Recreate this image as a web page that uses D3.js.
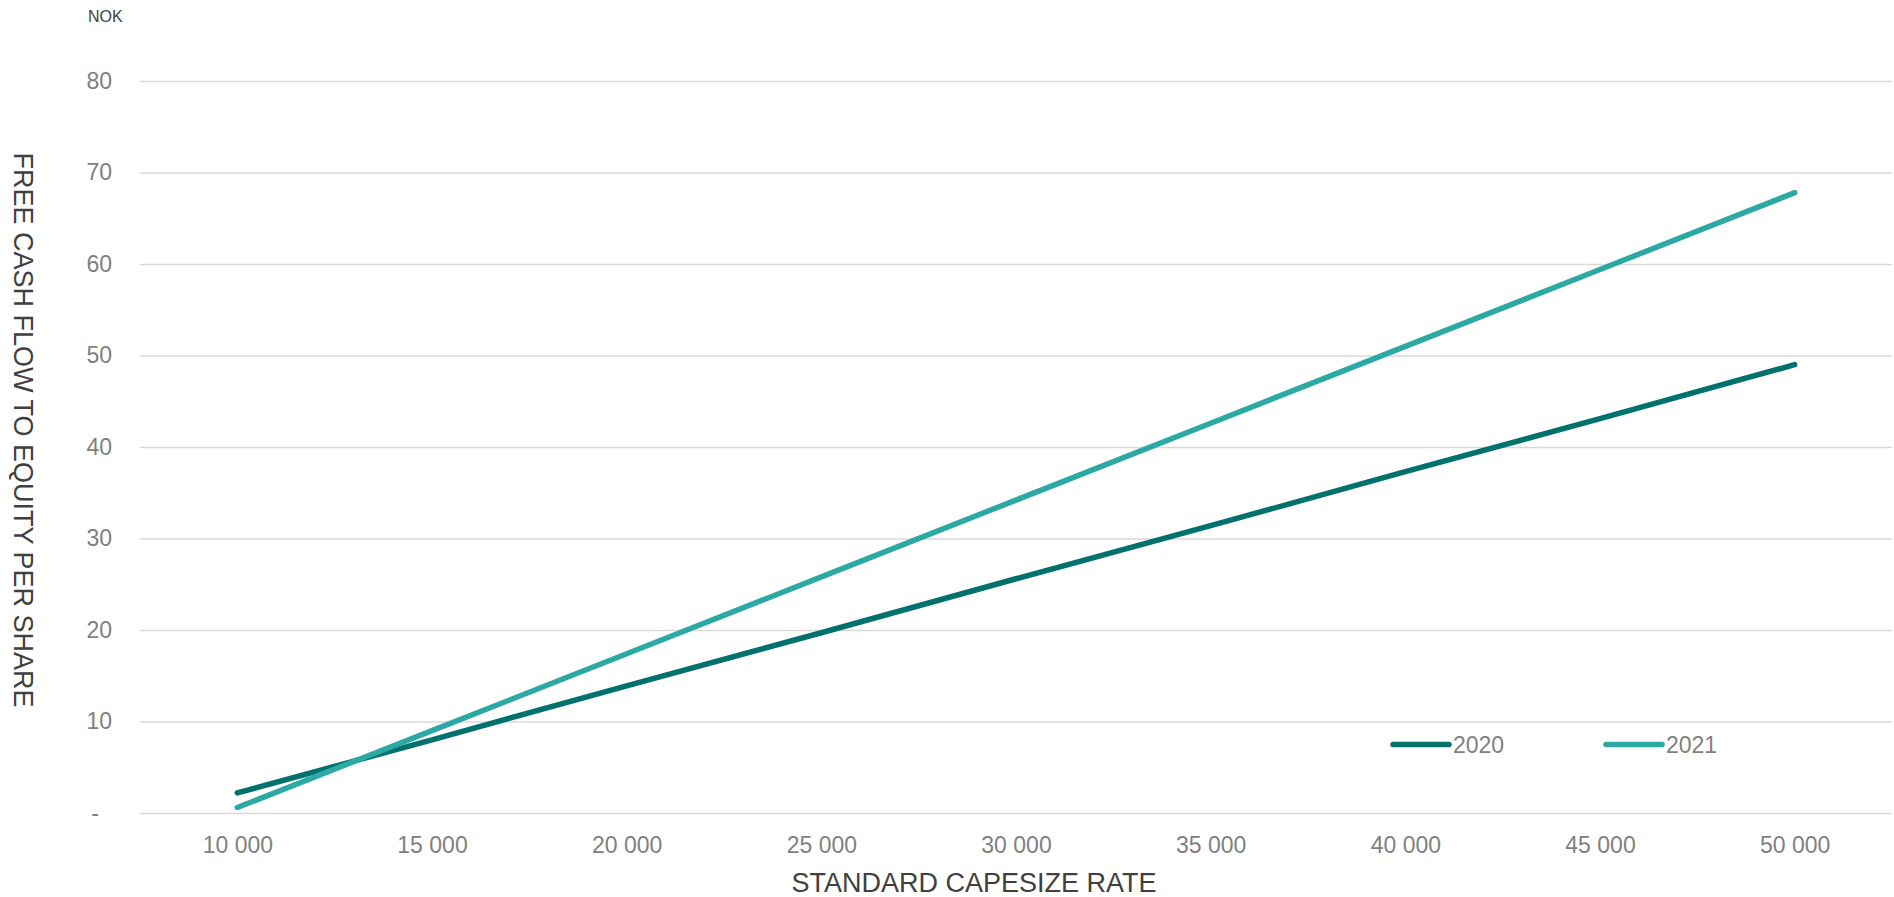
<!DOCTYPE html>
<html>
<head>
<meta charset="utf-8">
<script src="https://cdn.jsdelivr.net/npm/d3@7"></script>
<style>
  html, body { margin: 0; padding: 0; background: #ffffff; }
  svg { display: block; font-family: "Liberation Sans", Arial, sans-serif; }
</style>
</head>
<body>
<svg id="chart" width="1894" height="897"></svg>
<script>
// Capesize rate scenarios (USD/day) and the resulting free cash flow to equity per share (NOK)
const categories = ["10 000", "15 000", "20 000", "25 000", "30 000", "35 000", "40 000", "45 000", "50 000"];
const fcf2020 = [2.2, 8.0, 13.9, 19.7, 25.6, 31.4, 37.3, 43.1, 49.0];
const fcf2021 = [0.6, 9.0, 17.4, 25.8, 34.2, 42.6, 51.0, 59.4, 67.8];
const yTicks = [0, 10, 20, 30, 40, 50, 60, 70, 80];
const seriesNames = ["2020", "2021"];
const seriesColors = ["#00716c", "#2ca9a5"];

const svg = d3.select("#chart");
const plot = { left: 140, right: 1892, top: 81, bottom: 813 };

const x = d3.scalePoint()
  .domain(categories)
  .range([plot.left, plot.right])
  .padding(0.5);

const y = d3.scaleLinear()
  .domain([0, 80])
  .range([plot.bottom, plot.top]);

// Horizontal gridlines with value labels
const yAxis = d3.axisLeft(y)
  .tickValues(yTicks)
  .tickSize(-(plot.right - plot.left))
  .tickPadding(28)
  .tickFormat(d => d === 0 ? "-" : d3.format("d")(d));

const gy = svg.append("g")
  .attr("transform", `translate(${plot.left},0)`)
  .call(yAxis);
gy.select(".domain").remove();
gy.selectAll(".tick line")
  .attr("stroke", "#d9d9d9")
  .attr("stroke-width", 1.6);
gy.selectAll(".tick text")
  .attr("fill", "#7f7f7f")
  .attr("font-size", 23)
  .attr("dx", d => d === 0 ? -13 : 0);

// Category labels under the baseline
const xAxis = d3.axisBottom(x).tickSize(0).tickPadding(24);
const gx = svg.append("g")
  .attr("transform", `translate(0,${plot.bottom})`)
  .call(xAxis);
gx.select(".domain").remove();
gx.selectAll(".tick text")
  .attr("fill", "#7f7f7f")
  .attr("font-size", 23);

// Series lines
const series = [fcf2020, fcf2021];
const line = d3.line()
  .x((d, i) => x(categories[i]))
  .y(d => y(d));

svg.append("g")
  .selectAll("path")
  .data(series)
  .join("path")
  .attr("d", d => line(d))
  .attr("fill", "none")
  .attr("stroke", (d, i) => seriesColors[i])
  .attr("stroke-width", 5.5)
  .attr("stroke-linecap", "round")
  .attr("stroke-linejoin", "round");

// Legend
const legendX = [1393, 1606];
const legendY = 744.5;
const legend = svg.append("g")
  .selectAll("g")
  .data(seriesNames)
  .join("g")
  .attr("transform", (d, i) => `translate(${legendX[i]},${legendY})`);
legend.append("line")
  .attr("x1", 0).attr("x2", 56)
  .attr("y1", 0).attr("y2", 0)
  .attr("stroke", (d, i) => seriesColors[i])
  .attr("stroke-width", 5.5)
  .attr("stroke-linecap", "round");
legend.append("text")
  .attr("x", 60)
  .attr("y", 0)
  .attr("dy", "0.35em")
  .attr("fill", "#7f7f7f")
  .attr("font-size", 23)
  .text(d => d);

// Unit label
svg.append("text")
  .attr("x", 88)
  .attr("y", 22)
  .attr("fill", "#404040")
  .attr("font-size", 16)
  .text("NOK");

// Axis titles
svg.append("text")
  .attr("x", 974)
  .attr("y", 892)
  .attr("text-anchor", "middle")
  .attr("fill", "#404040")
  .attr("font-size", 27)
  .text("STANDARD CAPESIZE RATE");

svg.append("text")
  .attr("transform", "translate(14,430) rotate(90)")
  .attr("text-anchor", "middle")
  .attr("fill", "#404040")
  .attr("font-size", 27)
  .text("FREE CASH FLOW TO EQUITY PER SHARE");
</script>
</body>
</html>
